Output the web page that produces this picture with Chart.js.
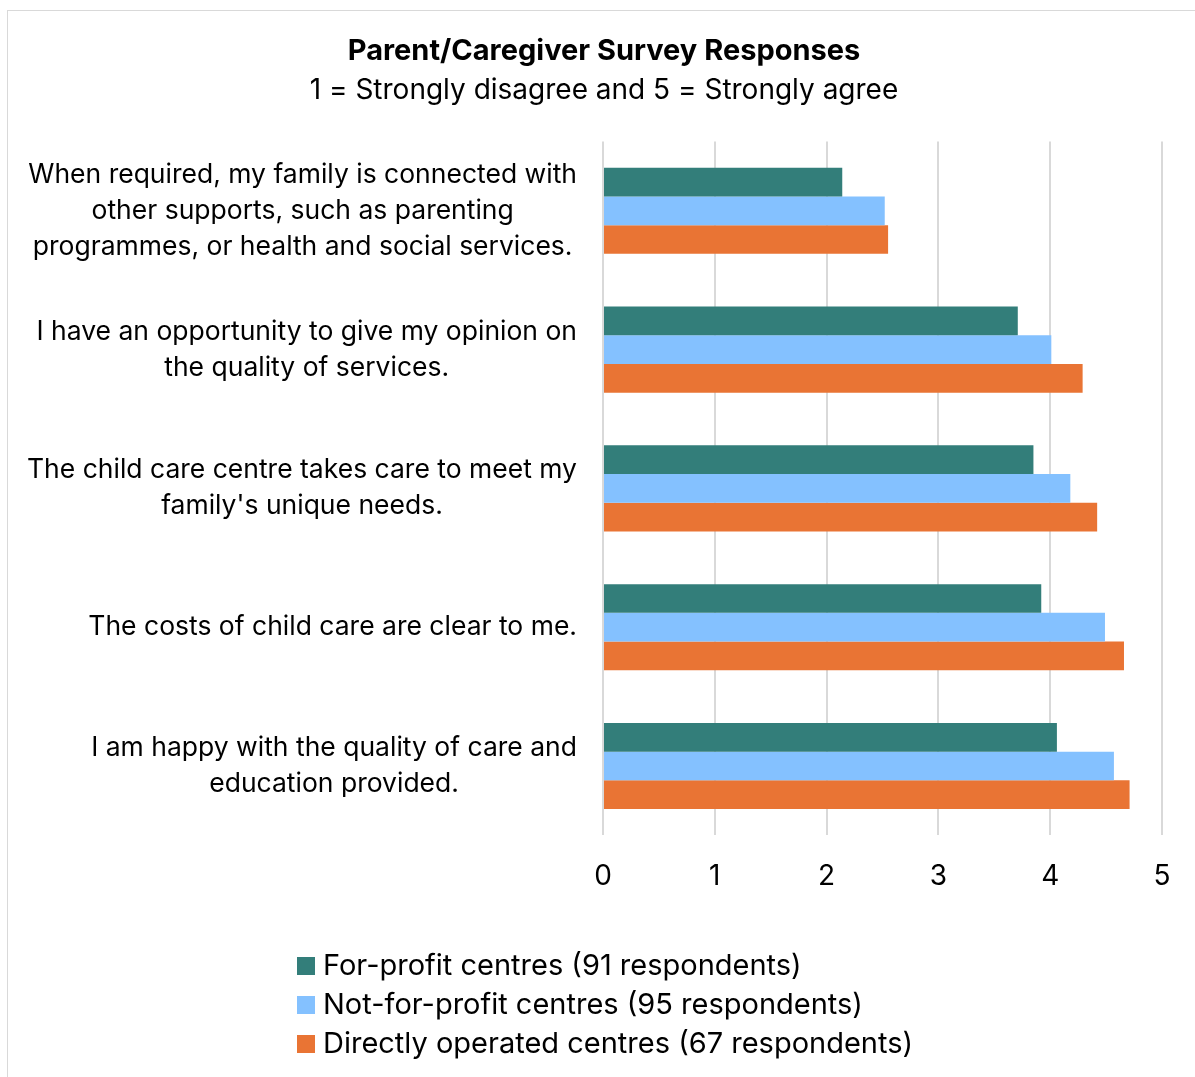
<!DOCTYPE html>
<html>
<head>
<meta charset="utf-8">
<script src="https://cdn.jsdelivr.net/npm/chart.js@4.4.1/dist/chart.umd.min.js"></script>
<style>
  html, body { margin: 0; padding: 0; background: #fff; overflow: hidden; }
  #frame {
    position: absolute; left: 7px; top: 10px;
    width: 1194px; height: 1090px;
    border: 1px solid #d9d9d9; background: #fff;
  }
  #frame canvas { display: block; }
</style>
</head>
<body>
<div id="frame"><canvas id="surveyChart" width="1194" height="1066"></canvas></div>
<script>
/* ---------- data ---------- */
const QUESTIONS = [
  ['When required, my family is connected with', 'other supports, such as parenting', 'programmes, or health and social services.'],
  ['I have an opportunity to give my opinion on', 'the quality of services.'],
  ['The child care centre takes care to meet my', "family's unique needs."],
  ['The costs of child care are clear to me.'],
  ['I am happy with the quality of care and', 'education provided.']
];
const FOR_PROFIT     = [2.14, 3.71, 3.85, 3.92, 4.06];
const NOT_FOR_PROFIT = [2.52, 4.01, 4.18, 4.49, 4.57];
const DIRECTLY_OP    = [2.55, 4.29, 4.42, 4.66, 4.71];
const SERIES_NAMES = [
  'For-profit centres (91 respondents)',
  'Not-for-profit centres (95 respondents)',
  'Directly operated centres (67 respondents)'
];
const X_TICKS = [0, 1, 2, 3, 4, 5];

/* ---------- look ---------- */
const FONT = 'Inter, "Open Sans", sans-serif';
const COLORS = { teal: '#337e7a', blue: '#84c1ff', orange: '#e97434', grid: '#d9d9d9' };

/* y labels: each block right-aligned, lines centred inside the block */
const questionLabels = {
  id: 'questionLabels',
  afterDraw (chart) {
    const { ctx, scales: { y } } = chart;
    const right = 569, lh = 36;
    ctx.save();
    ctx.font = `26.5px ${FONT}`;
    ctx.fillStyle = '#000';
    ctx.textAlign = 'center';
    ctx.textBaseline = 'middle';
    chart.data.labels.forEach((lines, i) => {
      const w = Math.max(...lines.map(l => ctx.measureText(l).width));
      const cx = right - w / 2;
      const cy = y.getPixelForValue(i);
      lines.forEach((l, k) => ctx.fillText(l, cx, cy + (k - (lines.length - 1) / 2) * lh));
    });
    ctx.restore();
  }
};

/* legend: stacked, left-aligned rows under the axis */
const stackedLegend = {
  id: 'stackedLegend',
  afterDraw (chart) {
    const { ctx } = chart;
    ctx.save();
    ctx.font = `29px ${FONT}`;
    ctx.textAlign = 'left';
    ctx.textBaseline = 'middle';
    chart.data.datasets.forEach((ds, i) => {
      const cy = 955 + i * 39;
      ctx.fillStyle = ds.backgroundColor;
      ctx.fillRect(289, cy - 9, 18, 18);
      ctx.fillStyle = '#000';
      ctx.fillText(ds.label, 315, cy);
    });
    ctx.restore();
  }
};

new Chart(document.getElementById('surveyChart'), {
  type: 'bar',
  data: {
    labels: QUESTIONS,
    datasets: [
      { label: SERIES_NAMES[0], data: FOR_PROFIT,     backgroundColor: COLORS.teal },
      { label: SERIES_NAMES[1], data: NOT_FOR_PROFIT, backgroundColor: COLORS.blue },
      { label: SERIES_NAMES[2], data: DIRECTLY_OP,    backgroundColor: COLORS.orange }
    ]
  },
  options: {
    indexAxis: 'y',
    responsive: false,
    animation: false,
    categoryPercentage: 0.62,
    barPercentage: 1,
    // left/right padding kept balanced so the titles stay centred on the frame
    layout: { padding: { left: 38, right: 40, top: 0, bottom: 160 } },
    scales: {
      x: {
        min: 0, max: 5,
        afterBuildTicks: s => { s.ticks = X_TICKS.map(v => ({ value: v })); },
        grid: { color: COLORS.grid, lineWidth: 2, drawTicks: false },
        border: { display: false },
        ticks: { color: '#000', padding: 24, font: { family: FONT, size: 28 } }
      },
      y: {
        grid: { display: false },
        border: { display: false },
        ticks: { display: false },
        afterFit: s => { s.width = 557; }
      }
    },
    plugins: {
      legend: { display: false },
      tooltip: { enabled: false },
      title: {
        display: true,
        text: 'Parent/Caregiver Survey Responses',
        color: '#000',
        font: { family: FONT, size: 29, weight: 'bold' },
        padding: { top: 23, bottom: 5 }
      },
      subtitle: {
        display: true,
        text: '1 = Strongly disagree and 5 = Strongly agree',
        color: '#000',
        font: { family: FONT, size: 28 },
        padding: { top: 0, bottom: 34 }
      }
    }
  },
  plugins: [questionLabels, stackedLegend]
});
</script>
</body>
</html>
